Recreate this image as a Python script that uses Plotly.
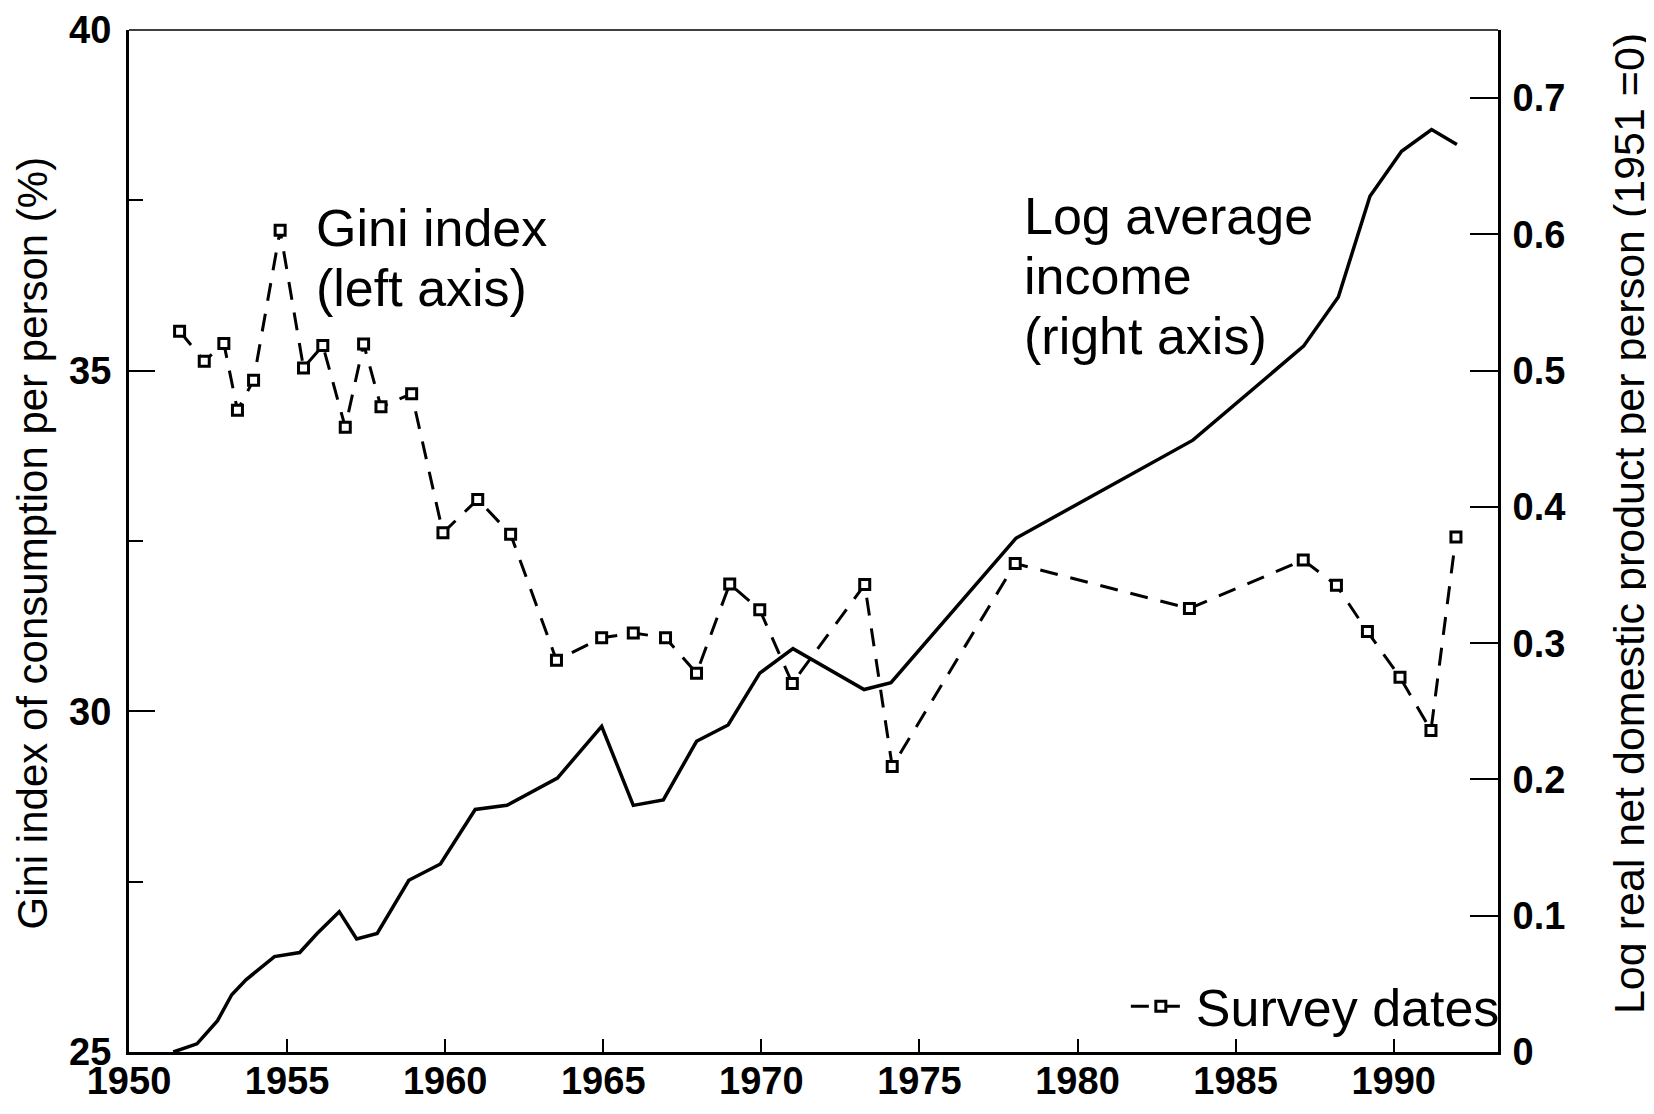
import plotly.graph_objects as go

# ---- data ----
income_years = [1951.4, 1952.15, 1952.8, 1953.25, 1953.7, 1954.6, 1955.4, 1955.95, 1956.65,
                1957.2, 1957.85, 1958.85, 1959.85, 1960.95, 1961.95, 1963.55, 1964.95,
                1965.95, 1966.9, 1967.95, 1968.95, 1969.95, 1971.0, 1973.25, 1974.1,
                1978.05, 1983.65, 1987.15, 1988.25, 1989.25, 1990.25, 1991.2, 1992.0]
income_log = [0.0, 0.006, 0.023, 0.042, 0.053, 0.070, 0.073, 0.087, 0.103,
              0.083, 0.087, 0.126, 0.138, 0.178, 0.181, 0.201, 0.239,
              0.181, 0.185, 0.228, 0.240, 0.278, 0.296, 0.266, 0.271,
              0.377, 0.449, 0.518, 0.554, 0.628, 0.661, 0.677, 0.666]

survey_years = [1951.6, 1952.38, 1953.0, 1953.43, 1953.94, 1954.78, 1955.52, 1956.13,
                1956.84, 1957.42, 1957.97, 1958.94, 1959.93, 1961.03, 1962.07, 1963.52,
                1964.95, 1965.95, 1966.97, 1967.95, 1969.0, 1969.95, 1970.98, 1973.27,
                1974.14, 1978.03, 1983.54, 1987.14, 1988.19, 1989.17, 1990.2, 1991.18,
                1991.97]
gini = [35.58, 35.14, 35.40, 34.42, 34.86, 37.06, 35.04, 35.37,
        34.17, 35.39, 34.47, 34.66, 32.62, 33.11, 32.60, 30.75,
        31.08, 31.15, 31.08, 30.56, 31.87, 31.49, 30.41, 31.86,
        29.19, 32.17, 31.51, 32.22, 31.85, 31.17, 30.50, 29.72,
        32.56]

x_ticks = [1950, 1955, 1960, 1965, 1970, 1975, 1980, 1985, 1990]
left_ticks = [25, 30, 35, 40]
right_ticks = [0, 0.1, 0.2, 0.3, 0.4, 0.5, 0.6, 0.7]

left_title = "Gini index of consumption per person (%)"
right_title = "Log real net domestic product per person (1951 =0)"

FONT = "Liberation Sans, Arial, Helvetica, sans-serif"
TICKFONT = dict(family=FONT, size=38, color="black", weight="bold")

fig = go.Figure()

fig.add_trace(go.Scatter(
    x=income_years, y=income_log, yaxis="y2", mode="lines",
    line=dict(color="black", width=3.5), showlegend=False, name="Log average income"))

fig.add_trace(go.Scatter(
    x=survey_years, y=gini, yaxis="y", mode="lines+markers",
    line=dict(color="black", width=3, dash="18px,13px"),
    marker=dict(symbol="square", size=10, color="white", line=dict(color="black", width=3)),
    name="Survey dates", showlegend=True))

# the page body adds an 8px margin, so the figure is 8px smaller and shifted
fig.update_layout(
    width=1646, height=1106,
    margin=dict(l=121, r=156, t=22, b=62),
    paper_bgcolor="white", plot_bgcolor="white",
    font=dict(family=FONT, color="black"),
    xaxis=dict(range=[1950, 1993.3], tickvals=x_ticks, ticks="inside", ticklen=13,
               tickwidth=2, tickcolor="black", automargin=False,
               showline=True, linecolor="black", linewidth=3, mirror=False,
               showgrid=False, zeroline=False, ticklabelstandoff=-7,
               tickfont=TICKFONT),
    yaxis=dict(range=[25, 40], tickvals=left_ticks, ticks="inside", ticklen=26,
               tickwidth=2, tickcolor="black", automargin=False,
               minor=dict(ticks="inside", ticklen=14, dtick=2.5, tick0=25,
                          tickcolor="black", tickwidth=2),
               showline=True, linecolor="black", linewidth=3,
               showgrid=False, zeroline=False, ticklabelstandoff=7,
               tickfont=TICKFONT),
    yaxis2=dict(range=[0, 0.75], tickvals=right_ticks, overlaying="y", side="right",
                ticks="inside", ticklen=28, tickwidth=2, tickcolor="black", automargin=False,
                showline=True, linecolor="black", linewidth=3,
                showgrid=False, zeroline=False, ticklabelstandoff=4,
                tickfont=TICKFONT),
    legend=dict(x=1.005, xanchor="right", y=0.005, yanchor="bottom",
                bgcolor="rgba(0,0,0,0)", borderwidth=0,
                font=dict(family=FONT, size=52, color="black"),
                itemwidth=60, tracegroupgap=0),
)

# thin top frame line
fig.add_shape(type="line", xref="paper", yref="paper", x0=0, x1=1, y0=1, y1=1,
              line=dict(color="black", width=1.5))

# axis titles
fig.add_annotation(x=-0.0705, y=0.498, xref="paper", yref="paper", text=left_title,
                   textangle=-90, showarrow=False, xanchor="center", yanchor="middle",
                   font=dict(family=FONT, size=42, color="black"))
fig.add_annotation(x=1.0957, y=0.5166, xref="paper", yref="paper", text=right_title,
                   textangle=-90, showarrow=False, xanchor="center", yanchor="middle",
                   font=dict(family=FONT, size=43, color="black"))

annots = [
    ("Gini index", 1955.84, 37.09),
    ("(left axis)", 1955.84, 36.21),
    ("Log average", 1978.24, 37.27),
    ("income", 1978.24, 36.39),
    ("(right axis)", 1978.24, 35.51),
]
for txt, ax, ay in annots:
    fig.add_annotation(x=ax, y=ay, xref="x", yref="y", text=txt, showarrow=False,
                       xanchor="left", yanchor="middle",
                       font=dict(family=FONT, size=52, color="black"))

fig.write_html("out.html")
